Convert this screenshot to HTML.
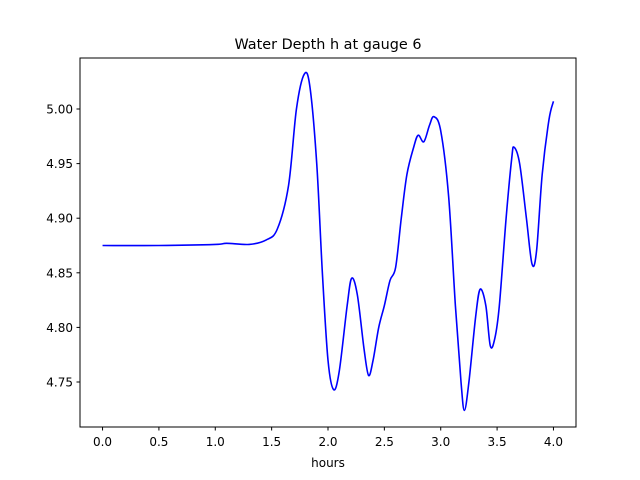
<!DOCTYPE html>
<html><head><meta charset="utf-8"><style>
body{margin:0;background:#fff;}
svg{display:block;font-family:"DejaVu Sans","Liberation Sans",sans-serif;}
</style></head><body>
<svg id="chart" width="640" height="480" viewBox="0 0 640 480">
<rect x="0" y="0" width="640" height="480" fill="#fff"/>
<text x="328" y="49" font-size="14.4" text-anchor="middle">Water Depth h at gauge 6</text>
<g id="xt"></g>
<g id="yt"></g>
<path id="line" fill="none" stroke="#0000ff" stroke-width="1.6"/>
<rect x="80" y="58" width="496" height="369" fill="none" stroke="#000" stroke-width="1"/>
<text x="328" y="467" font-size="12" text-anchor="middle">hours</text>
</svg>
<script>
const hours=[0,0.5,1.0,1.1,1.3,1.45,1.55,1.65,1.72,1.79,1.84,1.9,1.95,2.0,2.05,2.1,2.17,2.21,2.26,2.32,2.36,2.4,2.45,2.5,2.55,2.6,2.65,2.7,2.76,2.8,2.85,2.9,2.94,3.0,3.07,3.13,3.18,3.21,3.25,3.31,3.35,3.4,3.44,3.48,3.52,3.58,3.63,3.65,3.7,3.76,3.81,3.85,3.9,3.96,4.0];
const depth=[4.875,4.875,4.876,4.877,4.876,4.88,4.89,4.93,5.0,5.032,5.02,4.95,4.85,4.77,4.743,4.76,4.82,4.845,4.83,4.78,4.756,4.77,4.80,4.82,4.843,4.855,4.90,4.94,4.965,4.976,4.97,4.985,4.993,4.98,4.92,4.82,4.75,4.724,4.75,4.81,4.835,4.82,4.783,4.79,4.82,4.90,4.955,4.965,4.95,4.9,4.858,4.87,4.94,4.99,5.007];
const xTicks=[0,0.5,1.0,1.5,2.0,2.5,3.0,3.5,4.0];
const yTicks=[4.75,4.80,4.85,4.90,4.95,5.00];
const X0=80,X1=576,Y0=427,Y1=58,xmin=-0.2,xmax=4.2,ymin=4.7088,ymax=5.0467;
const sx=v=>X0+(v-xmin)/(xmax-xmin)*(X1-X0);
const sy=v=>Y0-(v-ymin)/(ymax-ymin)*(Y0-Y1);
const NS="http://www.w3.org/2000/svg";
const xt=document.getElementById('xt'),yt=document.getElementById('yt');
xTicks.forEach(t=>{
 const l=document.createElementNS(NS,'line');
 
 
 l.setAttribute('x1',sx(t));l.setAttribute('x2',sx(t));l.setAttribute('y1',427);l.setAttribute('y2',430.5);l.setAttribute('stroke','#000');
 xt.appendChild(l);
 const s=document.createElementNS(NS,'text');
 
 
 s.setAttribute('x',sx(t));s.setAttribute('y',446);s.setAttribute('font-size','12');s.setAttribute('text-anchor','middle');
 s.textContent=t.toFixed(1);xt.appendChild(s);
});
yTicks.forEach(t=>{
 const l=document.createElementNS(NS,'line');
 
 
 l.setAttribute('x1',76.5);l.setAttribute('x2',80);l.setAttribute('y1',sy(t));l.setAttribute('y2',sy(t));l.setAttribute('stroke','#000');
 yt.appendChild(l);
 const s=document.createElementNS(NS,'text');
 
 
 s.setAttribute('x',73);s.setAttribute('y',sy(t)+4.5);s.setAttribute('font-size','12');s.setAttribute('text-anchor','end');
 s.textContent=t.toFixed(2);yt.appendChild(s);
});
const p=hours.map((h,i)=>[sx(h),sy(depth[i])]);
let d='M'+p[0][0]+','+p[0][1];
for(let i=0;i<p.length-1;i++){
 const a=p[Math.max(0,i-1)],b=p[i],c=p[i+1],e=p[Math.min(p.length-1,i+2)];
 const c1=[b[0]+(c[0]-a[0])/6,b[1]+(c[1]-a[1])/6],c2=[c[0]-(e[0]-b[0])/6,c[1]-(e[1]-b[1])/6];
 d+=' C'+c1+' '+c2+' '+c;
}
document.getElementById('line').setAttribute('d',d);
</script>
</body></html>
